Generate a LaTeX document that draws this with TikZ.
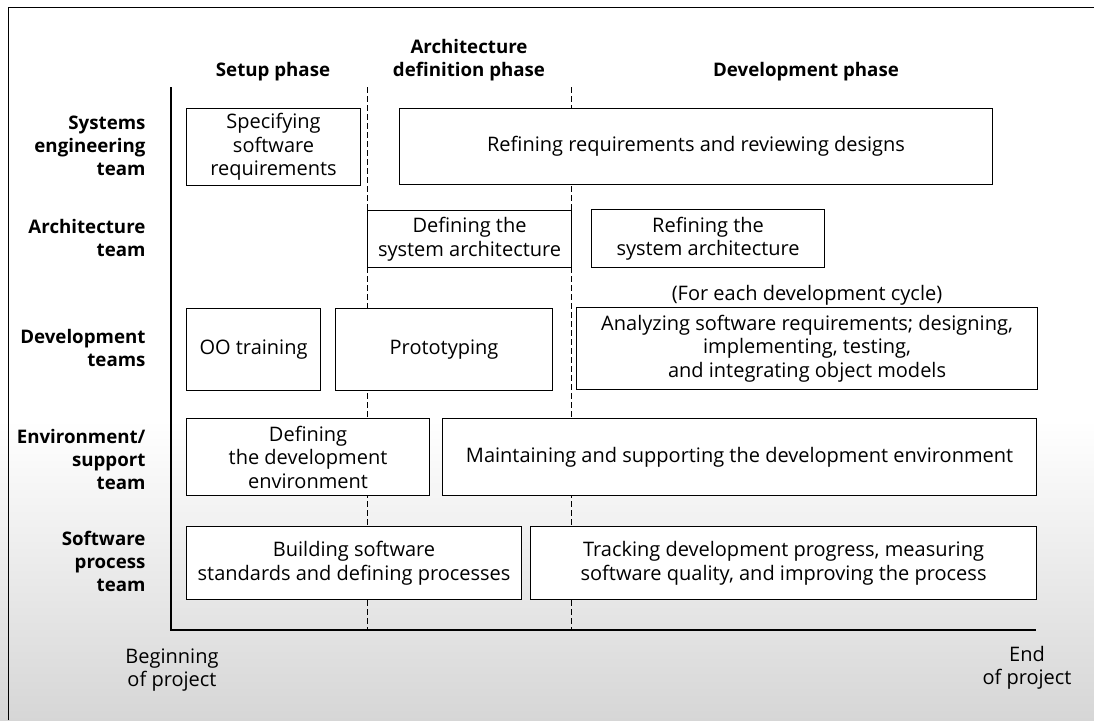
\documentclass[tikz,border=0pt]{standalone}
\usepackage{fontspec}
\setmainfont{Open Sans}
\newcommand\txtfont{\fontsize{20}{23.5}\selectfont}
\newcommand\lblfont{\fontsize{18.7}{23}\selectfont\bfseries}
\begin{document}
\begin{tikzpicture}[x=1pt,y=-1pt,
  task/.style={draw, line width=1.1pt, fill=white, align=center, inner sep=0pt,
               anchor=north west, font=\txtfont},
  role/.style={anchor=east, align=right, font=\lblfont},
  phase/.style={align=center, font=\lblfont},
  axisline/.style={line width=1.2pt},
  phaseline/.style={line width=0.8pt, dash pattern=on 6pt off 3pt},
  endlabel/.style={align=center, font=\txtfont}
]
% page extent
\useasboundingbox (0,0) rectangle (1094,720);
% scanned grain in the lower part
\shade[top color=white, bottom color=black!16] (0,420) rectangle (1094,720);

% frame (left and top edges)
\coordinate (fTL) at (8,7);
\coordinate (fTR) at (1094,7);
\coordinate (fBL) at (8,720);
\draw[line width=1pt] (fBL) -- (fTL) -- (fTR);

% time axes
\coordinate (axTop) at (171,87);
\coordinate (axOrig) at (171,630);
\coordinate (axEnd) at (1036,630);
\draw[axisline] (axTop) -- (axOrig) -- (axEnd);

% phase boundaries
\coordinate (p1t) at (367,87);
\coordinate (p1b) at (367,630);
\coordinate (p2t) at (571,87);
\coordinate (p2b) at (571,630);
\draw[phaseline] (p1t) -- (p1b);
\draw[phaseline] (p2t) -- (p2b);

% phase headings
\node[phase] (hSetup) at (273,72) {Setup phase};
\node[phase] (hArch) at (469,60.5) {Architecture\\definition phase};
\node[phase] (hDev) at (806,72) {Development phase};

% team labels
\node[role] (rSys) at (149,146) {Systems\\engineering\\team};
\node[role] (rArch) at (149,238) {Architecture\\team};
\node[role] (rDev) at (149,348) {Development\\teams};
\node[role] (rEnv) at (149,459) {Environment/\\support\\team};
\node[role] (rProc) at (149,561) {Software\\process\\team};

% activities
\node[task, minimum width=174pt, minimum height=77pt] (spec) at (186,108)
  {Specifying\\software\\requirements};
\node[task, minimum width=593pt, minimum height=76pt] (refreq) at (399,108)
  {Refining requirements and reviewing designs};
\node[task, minimum width=204pt, minimum height=57pt] (defarch) at (367,210)
  {Defining the\\system architecture};
\node[task, minimum width=233pt, minimum height=58pt] (refarch) at (591,209)
  {Refining the\\system architecture};
\node[font=\txtfont] (cycle) at (807,295) {(For each development cycle)};
\node[task, minimum width=134pt, minimum height=82pt] (oo) at (186,308)
  {OO training};
\node[task, minimum width=217pt, minimum height=82pt] (proto) at (335,308)
  {Prototyping};
\node[task, minimum width=461pt, minimum height=82pt] (anal) at (576,307)
  {Analyzing software requirements; designing,\\implementing, testing,\\and integrating object models};
\node[task, minimum width=243pt, minimum height=77pt] (defenv) at (186,418)
  {Defining\\the development\\environment};
\node[task, minimum width=594pt, minimum height=77pt] (maint) at (442,418)
  {Maintaining and supporting the development environment};
\node[task, minimum width=335pt, minimum height=73pt] (build) at (186,526)
  {Building software\\standards and defining processes};
\node[task, minimum width=506pt, minimum height=73pt] (track) at (530,526)
  {Tracking development progress, measuring\\software quality, and improving the process};

% ends of the time axis
\node[endlabel] (begin) at (172,670) {Beginning\\of project};
\node[endlabel] (finish) at (1027,668) {End\\of project};
\end{tikzpicture}
\end{document}
